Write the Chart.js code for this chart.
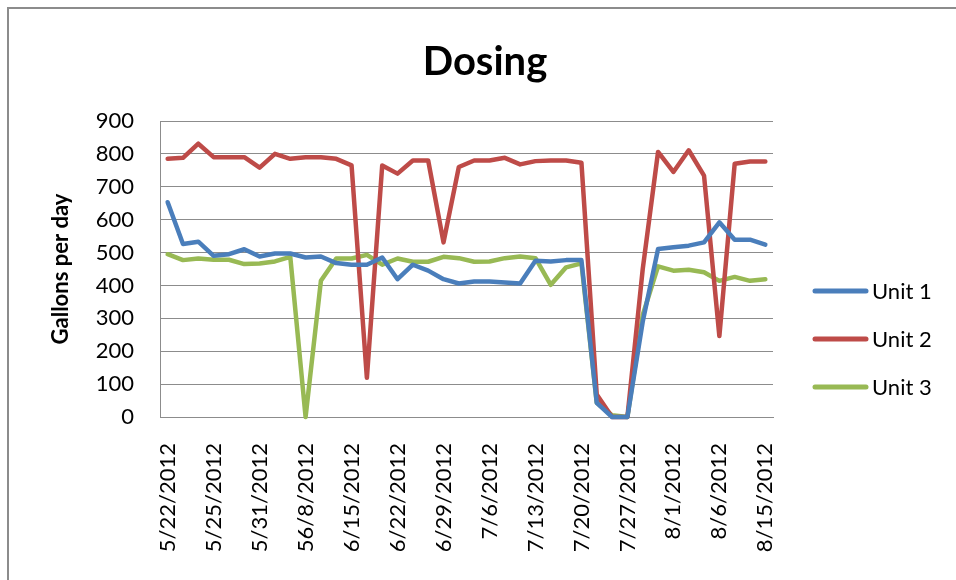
<!DOCTYPE html>
<html>
<head>
<meta charset="utf-8">
<script src="https://cdn.jsdelivr.net/npm/chart.js@4"></script>
<style>
  html, body { margin: 0; padding: 0; background: #fff; }
  #wrap { position: relative; width: 956px; height: 580px; overflow: hidden; }
  #frame { position: absolute; left: 7px; top: 7px; width: 1000px; height: 700px; border: 2px solid #8c8c8c; box-sizing: border-box; }
  canvas { position: absolute; left: 0; top: 0; }
</style>
</head>
<body>
<div id="wrap">
  <div id="frame"></div>
  <canvas id="c" width="956" height="580"></canvas>
</div>
<script>
// ---- data ----
const tickLabels = ["5/22/2012","5/25/2012","5/31/2012","56/8/2012","6/15/2012","6/22/2012","6/29/2012","7/6/2012","7/13/2012","7/20/2012","7/27/2012","8/1/2012","8/6/2012","8/15/2012"];
const labelEvery = 3;
const unit1 = [653,526,533,490,495,510,488,497,497,485,488,468,463,463,485,419,463,445,419,406,412,412,409,406,475,473,477,477,43,0,0,290,511,516,521,531,592,539,539,524];
const unit2 = [785,788,831,790,790,790,758,800,785,790,790,785,765,119,765,740,780,780,531,760,780,780,788,768,778,780,780,773,68,0,0,450,806,745,811,734,246,770,777,777];
const unit3 = [495,477,482,478,478,465,467,473,487,0,414,482,482,493,463,482,472,472,487,483,472,473,483,488,483,402,455,467,43,5,0,310,458,445,448,440,414,426,414,419];
const seriesNames = ["Unit 1","Unit 2","Unit 3"];
const seriesColors = ["#4A7EBB","#BE4B48","#98B954"];
const yTicks = {min: 0, max: 900, step: 100};

const categories = unit1.map((_, i) => (i % labelEvery === 0 ? tickLabels[i / labelEvery] : ""));

Chart.defaults.font.family = "Lato";
Chart.defaults.color = "#000";

const gridColor = "#8c8c8c";

const legendPlugin = {
  id: "customLegend",
  afterDraw(chart) {
    const ctx = chart.ctx;
    ctx.save();
    ctx.font = "22px Lato";
    ctx.textBaseline = "middle";
    ctx.textAlign = "left";
    chart.data.datasets.forEach((ds, i) => {
      const y = 291 + i * 48;
      ctx.strokeStyle = ds.borderColor;
      ctx.lineWidth = 5;
      ctx.lineCap = "round";
      ctx.beginPath();
      ctx.moveTo(815, y);
      ctx.lineTo(866, y);
      ctx.stroke();
      ctx.fillStyle = "#000";
      ctx.fillText(ds.label, 872, y + 1);
    });
    ctx.restore();
  }
};

new Chart(document.getElementById("c"), {
  type: "line",
  data: {
    labels: categories,
    datasets: [unit1, unit2, unit3].map((d, i) => ({
      label: seriesNames[i],
      data: d,
      borderColor: seriesColors[i],
      backgroundColor: seriesColors[i],
      borderWidth: 4.5,
      pointRadius: 0,
      tension: 0,
      borderJoinStyle: "round",
      borderCapStyle: "round",
      clip: false
    }))
  },
  options: {
    responsive: false,
    animation: false,
    layout: { padding: { left: 14, right: 0, top: 0, bottom: 0 } },
    plugins: {
      legend: { display: false },
      tooltip: { enabled: false },
      title: {
        display: true,
        text: "Dosing",
        font: { size: 40, weight: "bold", family: "Lato" },
        color: "#000",
        padding: { top: 38, bottom: 35 }
      }
    },
    scales: {
      x: {
        offset: true,
        grid: { display: false, drawTicks: false },
        border: { display: true, color: gridColor, width: 1 },
        ticks: {
          autoSkip: false,
          maxRotation: 90,
          minRotation: 90,
          padding: 26,
          font: { size: 22 },
          color: "#000"
        },
        afterFit(s) { s.height = 163; }
      },
      y: {
        min: yTicks.min,
        max: yTicks.max,
        grid: { color: gridColor, lineWidth: 1, drawTicks: false },
        border: { display: true, color: gridColor, width: 1 },
        ticks: { stepSize: yTicks.step, padding: 26, font: { size: 22 }, color: "#000" },
        title: {
          display: true,
          text: "Gallons per day",
          font: { size: 22, weight: "bold" },
          color: "#000",
          padding: { top: 34, bottom: 0 }
        },
        afterFit(s) { s.width = 146; }
      },
      legendSpace: {
        type: "linear",
        position: "right",
        display: true,
        grid: { display: false, drawTicks: false },
        border: { display: false },
        ticks: { display: false },
        afterFit(s) { s.width = 183; }
      }
    }
  },
  plugins: [legendPlugin]
});
</script>
</body>
</html>
